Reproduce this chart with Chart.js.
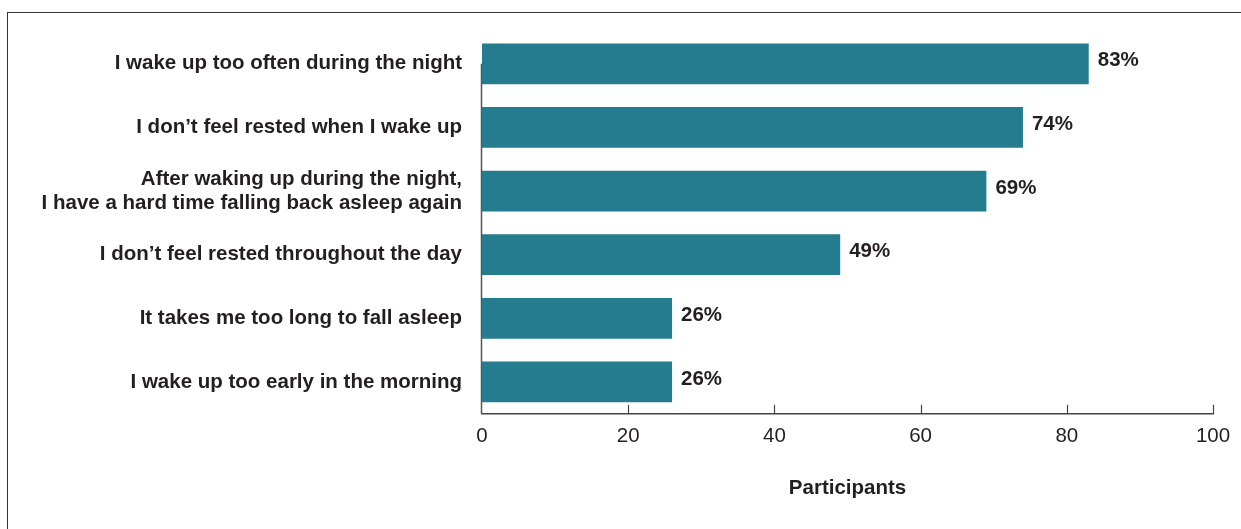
<!DOCTYPE html>
<html>
<head>
<meta charset="utf-8">
<script src="https://cdn.jsdelivr.net/npm/chart.js@4/dist/chart.umd.min.js"></script>
<style>
  html, body { margin: 0; padding: 0; background: #fff; }
  #wrap { position: relative; width: 1241px; height: 529px; overflow: hidden; }
  #frame {
    position: absolute; left: 7px; top: 12px; width: 1400px; height: 700px;
    border-top: 1.5px solid #333; border-left: 1.5px solid #333;
  }
  #chart { position: absolute; left: 0; top: 0; }
</style>
</head>
<body>
<div id="wrap">
  <div id="frame"></div>
  <canvas id="chart" width="1241" height="529"></canvas>
</div>
<script>
const categories = [
  'I wake up too often during the night',
  'I don\u2019t feel rested when I wake up',
  ['After waking up during the night,', 'I have a hard time falling back asleep again'],
  'I don\u2019t feel rested throughout the day',
  'It takes me too long to fall asleep',
  'I wake up too early in the morning'
];
const values = [83, 74, 69, 49, 26, 26];
const xTicks = [0, 20, 40, 60, 80, 100];

const ink = '#231f20';
const barColor = '#267c8f';
const fontFamily = '"Liberation Sans", Arial, Helvetica, sans-serif';
const fontSize = 20.5;

// value labels at the end of each bar
const valueLabels = {
  id: 'valueLabels',
  afterDatasetsDraw(chart) {
    const { ctx } = chart;
    const meta = chart.getDatasetMeta(0);
    ctx.save();
    ctx.font = 'bold ' + fontSize + 'px ' + fontFamily;
    ctx.fillStyle = ink;
    ctx.textAlign = 'left';
    ctx.textBaseline = 'middle';
    meta.data.forEach((bar, i) => {
      ctx.fillText(values[i] + '%', bar.x + 9, bar.y - 3);
    });
    ctx.restore();
  }
};

// x tick marks pointing up into the plot, and the category axis line
// running from the first bar down to the value axis
const axisMarks = {
  id: 'axisMarks',
  beforeDatasetsDraw(chart) {
    const { ctx, chartArea } = chart;
    const first = chart.getDatasetMeta(0).data[0];
    ctx.save();
    ctx.strokeStyle = '#555';
    ctx.lineWidth = 1.5;
    ctx.beginPath();
    ctx.moveTo(chartArea.left - 0.5, first.y);
    ctx.lineTo(chartArea.left - 0.5, chartArea.bottom);
    ctx.stroke();
    ctx.restore();
  },
  afterDatasetsDraw(chart) {
    const { ctx, scales: { x }, chartArea } = chart;
    ctx.save();
    ctx.strokeStyle = '#444';
    ctx.lineWidth = 1.2;
    xTicks.slice(1).forEach(v => {
      const px = Math.round(x.getPixelForValue(v)) + 0.5;
      ctx.beginPath();
      ctx.moveTo(px, chartArea.bottom);
      ctx.lineTo(px, chartArea.bottom - 9);
      ctx.stroke();
    });
    ctx.restore();
  }
};

new Chart(document.getElementById('chart'), {
  type: 'bar',
  data: {
    labels: categories,
    datasets: [{
      data: values,
      backgroundColor: barColor,
      borderWidth: 0,
      categoryPercentage: 0.8,
      barPercentage: 0.8
    }]
  },
  options: {
    indexAxis: 'y',
    responsive: false,
    animation: false,
    devicePixelRatio: 1,
    layout: { padding: { top: 26, right: 28, left: 10, bottom: 28 } },
    plugins: {
      legend: { display: false },
      tooltip: { enabled: false }
    },
    scales: {
      x: {
        min: 0,
        max: 100,
        afterBuildTicks(scale) {
          scale.ticks = xTicks.map(v => ({ value: v }));
        },
        grid: { display: false, drawTicks: false },
        border: { display: true, color: '#444', width: 1.5 },
        ticks: {
          color: ink,
          padding: 10,
          font: { family: fontFamily, size: fontSize }
        },
        title: {
          display: true,
          text: 'Participants',
          color: ink,
          padding: { top: 18, bottom: 0 },
          font: { family: fontFamily, size: fontSize, weight: 'bold' }
        }
      },
      y: {
        afterFit(scale) { scale.width = 472; },
        grid: { display: false, drawTicks: false },
        border: { display: false },
        ticks: {
          color: ink,
          padding: 20,
          font: { family: fontFamily, size: fontSize, weight: 'bold', lineHeight: 1.17 }
        }
      }
    }
  },
  plugins: [valueLabels, axisMarks]
});
</script>
</body>
</html>
